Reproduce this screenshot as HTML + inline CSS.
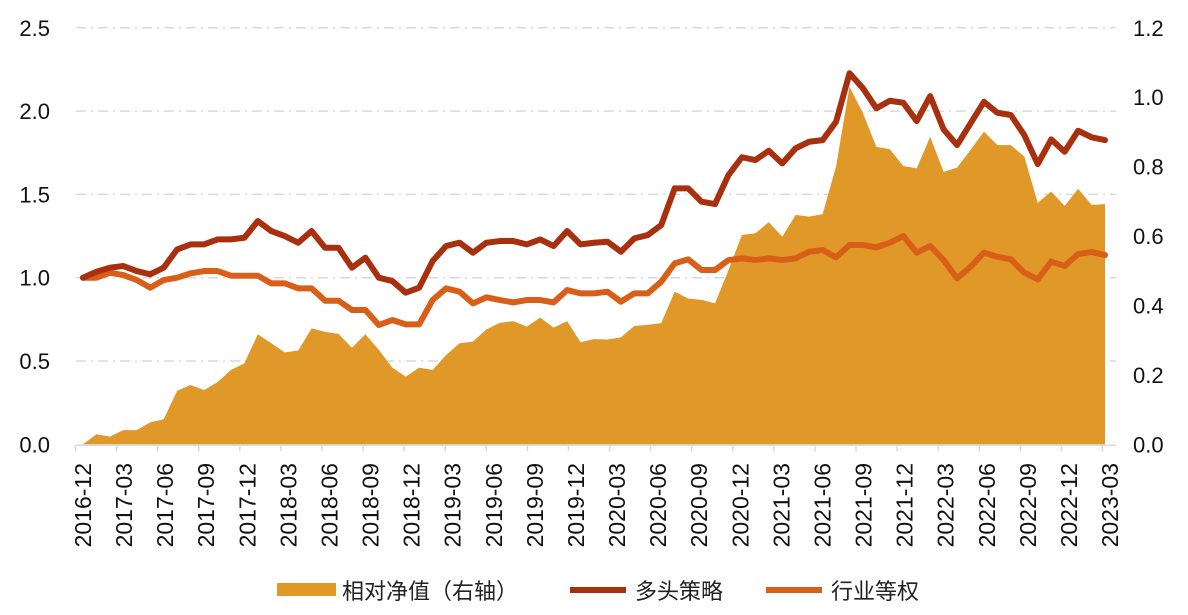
<!DOCTYPE html>
<html><head><meta charset="utf-8">
<style>
html,body{margin:0;padding:0;background:#fff;}
svg{display:block;font-family:"Liberation Sans","Noto Sans CJK SC",sans-serif;}
</style></head>
<body>
<svg id="chart" width="1188" height="615" viewBox="0 0 1188 615" xmlns="http://www.w3.org/2000/svg"></svg>
<script>
const dateLabels=["2016-12","2017-03","2017-06","2017-09","2017-12","2018-03","2018-06","2018-09","2018-12","2019-03","2019-06","2019-09","2019-12","2020-03","2020-06","2020-09","2020-12","2021-03","2021-06","2021-09","2021-12","2022-03","2022-06","2022-09","2022-12","2023-03"];
const leftTicks=[0,0.5,1.0,1.5,2.0,2.5];
const rightTicks=[0,0.2,0.4,0.6,0.8,1.0,1.2];
const longShort=[1.0,1.036,1.06,1.07,1.04,1.02,1.06,1.17,1.2,1.2,1.23,1.23,1.24,1.34,1.28,1.25,1.21,1.28,1.18,1.18,1.06,1.12,1.0,0.98,0.91,0.94,1.1,1.19,1.21,1.15,1.21,1.22,1.22,1.2,1.23,1.19,1.28,1.2,1.21,
1.216,1.156,1.236,1.256,1.316,1.536,1.536,1.456,1.442,1.616,1.723,1.706,1.762,1.686,1.777,1.816,1.826,1.936,2.227,2.137,2.017,2.062,2.05,1.94,2.09,1.89,1.796,1.926,2.056,1.99,1.976,1.856,1.682,1.83,1.756,1.882,1.843,1.826];
const equalWeight=[1.0,1.0,1.03,1.016,0.986,0.94,0.986,1.0,1.026,1.04,1.04,1.012,1.012,1.012,0.966,0.966,0.936,0.936,0.862,0.862,0.806,0.806,0.716,0.746,0.72,0.72,0.866,0.936,0.916,0.846,0.882,0.866,0.852,0.866,0.866,0.852,0.926,0.906,0.906,
0.916,0.856,0.906,0.906,0.976,1.086,1.11,1.046,1.046,1.106,1.116,1.106,1.116,1.106,1.116,1.156,1.166,1.122,1.196,1.196,1.182,1.21,1.25,1.15,1.19,1.106,0.996,1.066,1.15,1.126,1.11,1.03,0.99,1.096,1.07,1.142,1.154,1.136];
const relativeNav=[0,0.029,0.022,0.041,0.041,0.063,0.072,0.154,0.171,0.156,0.179,0.214,0.233,0.317,0.291,0.265,0.27,0.334,0.324,0.318,0.278,0.317,0.272,0.221,0.195,0.221,0.214,0.257,0.291,0.296,0.331,0.35,0.355,0.339,0.365,0.336,0.355,0.294,0.303,
0.302,0.308,0.341,0.344,0.349,0.44,0.42,0.416,0.406,0.502,0.603,0.608,0.64,0.598,0.661,0.656,0.663,0.8,1.03,0.954,0.857,0.85,0.802,0.795,0.886,0.785,0.797,0.848,0.901,0.862,0.862,0.829,0.696,0.728,0.687,0.736,0.69,0.692];

const NS="http://www.w3.org/2000/svg";
const svg=document.getElementById('chart');
const X0=76,X1=1116,Y0=444.3,YTOP=27.8;
const xData=i=>83+(1105-83)*i/(longShort.length-1);
const xLab=k=>83+(1110-83)*k/(dateLabels.length-1);
const yL=v=>Y0-(Y0-YTOP)*v/2.5;
const yR=v=>Y0-(Y0-YTOP)*v/1.2;
function mk(tag,attrs,parent){const e=document.createElementNS(NS,tag);for(const k in attrs)e.setAttribute(k,attrs[k]);(parent||svg).appendChild(e);return e;}

leftTicks.forEach(v=>{
  if(v===0)return;
  const g=mk('line',{x1:X0,x2:X1,y1:yL(v),y2:yL(v),stroke:'#d9d9d9','stroke-width':1.5,'stroke-dasharray':'10 5 2 5'});
  
  
});
let d='M'+xData(0)+','+yR(0);
relativeNav.forEach((v,i)=>{d+=' L'+xData(i)+','+yR(v);});
d+=' L'+xData(relativeNav.length-1)+','+yR(0)+' Z';
const area=mk('path',{d:d,fill:'#e09828'});


function line(arr,color,name){
  const p=mk('polyline',{points:arr.map((v,i)=>xData(i)+','+yL(v)).join(' '),fill:'none',stroke:color,'stroke-width':6,'stroke-linejoin':'round','stroke-linecap':'round'});
  
  
}
line(equalWeight,'#d95f18','equal-weight-line');
line(longShort,'#a8300f','long-strategy-line');
const ax=mk('line',{x1:X0,x2:X1,y1:Y0+1,y2:Y0+1,stroke:'#d9d9d9','stroke-width':1.5});


dateLabels.forEach((t,k)=>{
  const tx=xLab(k)-7.5;
  const tk=mk('line',{x1:tx,x2:tx,y1:Y0+1,y2:Y0+7,stroke:'#d9d9d9','stroke-width':1.5});
  
  
  const lx=xLab(k)+8;
  const tl=mk('text',{x:lx,y:463,'font-size':23,fill:'#111','text-anchor':'end',transform:'rotate(-90 '+lx+' 463)'});
  tl.textContent=t;
  
  
});
leftTicks.forEach(v=>{
  const t=mk('text',{x:50,y:yL(v)+8,'font-size':22,fill:'#111','text-anchor':'end'});
  t.textContent=v.toFixed(1);
  
  
});
rightTicks.forEach(v=>{
  const t=mk('text',{x:1133,y:yR(v)+8,'font-size':22,fill:'#111','text-anchor':'start'});
  t.textContent=v.toFixed(1);
  
  
});
const lg=mk('g',{});


const s1=mk('rect',{x:277,y:583,width:59,height:13,fill:'#e09828'},lg);


const t1=mk('text',{x:342,y:599,'font-size':22,fill:'#222'},lg);
t1.textContent='相对净值（右轴）';


const s2=mk('line',{x1:570,x2:626,y1:590,y2:590,stroke:'#a8300f','stroke-width':6},lg);


const t2=mk('text',{x:635,y:599,'font-size':22,fill:'#222'},lg);
t2.textContent='多头策略';


const s3=mk('line',{x1:766,x2:822,y1:590,y2:590,stroke:'#d95f18','stroke-width':6},lg);


const t3=mk('text',{x:831,y:599,'font-size':22,fill:'#222'},lg);
t3.textContent='行业等权';


</script>
</body></html>
